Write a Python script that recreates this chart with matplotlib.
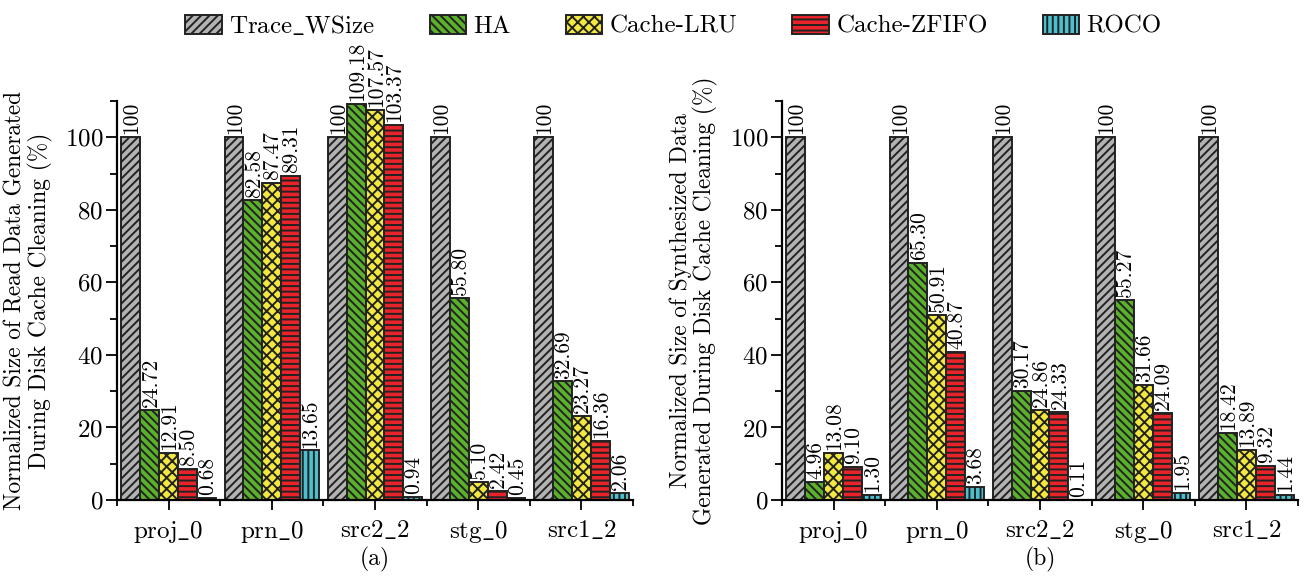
import numpy as np
import matplotlib
matplotlib.use('Agg')
import matplotlib.pyplot as plt
from matplotlib.patches import Patch

plt.rcParams['font.family'] = ['cmr10', 'DejaVu Serif']
plt.rcParams['mathtext.fontset'] = 'cm'
plt.rcParams['axes.unicode_minus'] = False
plt.rcParams['axes.formatter.use_mathtext'] = True
plt.rcParams['hatch.linewidth'] = 1.4

workloads = ['proj_0', 'prn_0', 'src2_2', 'stg_0', 'src1_2']
methods = ['Trace_WSize', 'HA', 'Cache-LRU', 'Cache-ZFIFO', 'ROCO']

# (a) read data during disk cache cleaning (%)
read_trace = [100, 100, 100, 100, 100]
read_ha = [24.72, 82.58, 109.18, 55.80, 32.69]
read_lru = [12.91, 87.47, 107.57, 5.10, 23.27]
read_zfifo = [8.50, 89.31, 103.37, 2.42, 16.36]
read_roco = [0.68, 13.65, 0.94, 0.45, 2.06]

# (b) synthesized data during disk cache cleaning (%)
syn_trace = [100, 100, 100, 100, 100]
syn_ha = [4.96, 65.30, 30.17, 55.27, 18.42]
syn_lru = [13.08, 50.91, 24.86, 31.66, 13.89]
syn_zfifo = [9.10, 40.87, 24.33, 24.09, 9.32]
syn_roco = [1.30, 3.68, 0.11, 1.95, 1.44]

colors = ['#b3b3b3', '#5bb02c', '#f2e840', '#e8232a', '#4cc0cf']
hatches = ['////', '\\\\\\\\', 'xxx', '---', '|||']


def us(s):
    # cmr10 has no real underscore glyph, use mathtext for it
    return s.replace('_', r'$\_$')


fig = plt.figure(figsize=(13.05, 5.76), dpi=100)
ax1 = fig.add_axes([117/1305, 76/576, 516/1305, 399/576])
ax2 = fig.add_axes([782/1305, 76/576, 516/1305, 399/576])


def draw(ax, series, ylabel, caption):
    x = np.arange(len(workloads))
    w = 0.183
    for k, vals in enumerate(series):
        pos = x + (k - 2) * w
        ax.bar(pos, vals, w, color=colors[k], edgecolor='#222222',
               hatch=hatches[k], linewidth=1.4, zorder=2)
        for p, v in zip(pos, vals):
            lab = '100' if v == 100 else '%.2f' % v
            ax.text(p + 0.01, v + 0.8, lab, rotation=90, ha='center',
                    va='bottom', fontsize=15.5)
    ax.set_xlim(-0.5, 4.5)
    ax.set_ylim(0, 110)
    ax.set_yticks([0, 20, 40, 60, 80, 100])
    ax.set_yticks(np.arange(0, 111, 10), minor=True)
    ax.set_xticks(x)
    ax.set_xticks(np.arange(-0.5, 4.6, 1.0), minor=True)
    ax.set_xticklabels([us(s) for s in workloads], fontsize=18)
    ax.tick_params(axis='y', labelsize=18, width=1.3, length=8, pad=2)
    ax.tick_params(axis='y', which='minor', width=1.3, length=5)
    ax.tick_params(axis='x', width=1.3, length=7, pad=7)
    ax.tick_params(axis='x', which='minor', width=1.3, length=4)
    for s in ['top', 'right']:
        ax.spines[s].set_visible(False)
    for s in ['left', 'bottom']:
        ax.spines[s].set_linewidth(1.6)
    ax.set_ylabel(ylabel, fontsize=16.8, linespacing=1.05)
    ax.text(0.5, -0.15, caption, transform=ax.transAxes, ha='center',
            va='center', fontsize=17)


draw(ax1, [read_trace, read_ha, read_lru, read_zfifo, read_roco],
     'Normalized Size of Read Data Generated\nDuring Disk Cache Cleaning (%)', '(a)')
draw(ax2, [syn_trace, syn_ha, syn_lru, syn_zfifo, syn_roco],
     'Normalized Size of Synthesized Data\nGenerated During Disk Cache Cleaning (%)', '(b)')
ax1.yaxis.set_label_coords(-0.124, 0.5)
ax2.yaxis.set_label_coords(-0.124, 0.5)

handles = [Patch(facecolor=colors[k], edgecolor='#222222', hatch=hatches[k],
                 linewidth=1.4) for k in range(5)]
fig.legend(handles, [us(m) for m in methods], loc='upper center',
           bbox_to_anchor=(0.516, 1.015), ncol=5, frameon=False, fontsize=18,
           handlelength=1.45, handleheight=0.8, columnspacing=2.2,
           handletextpad=0.3)

fig.savefig('out.png', dpi=100)
